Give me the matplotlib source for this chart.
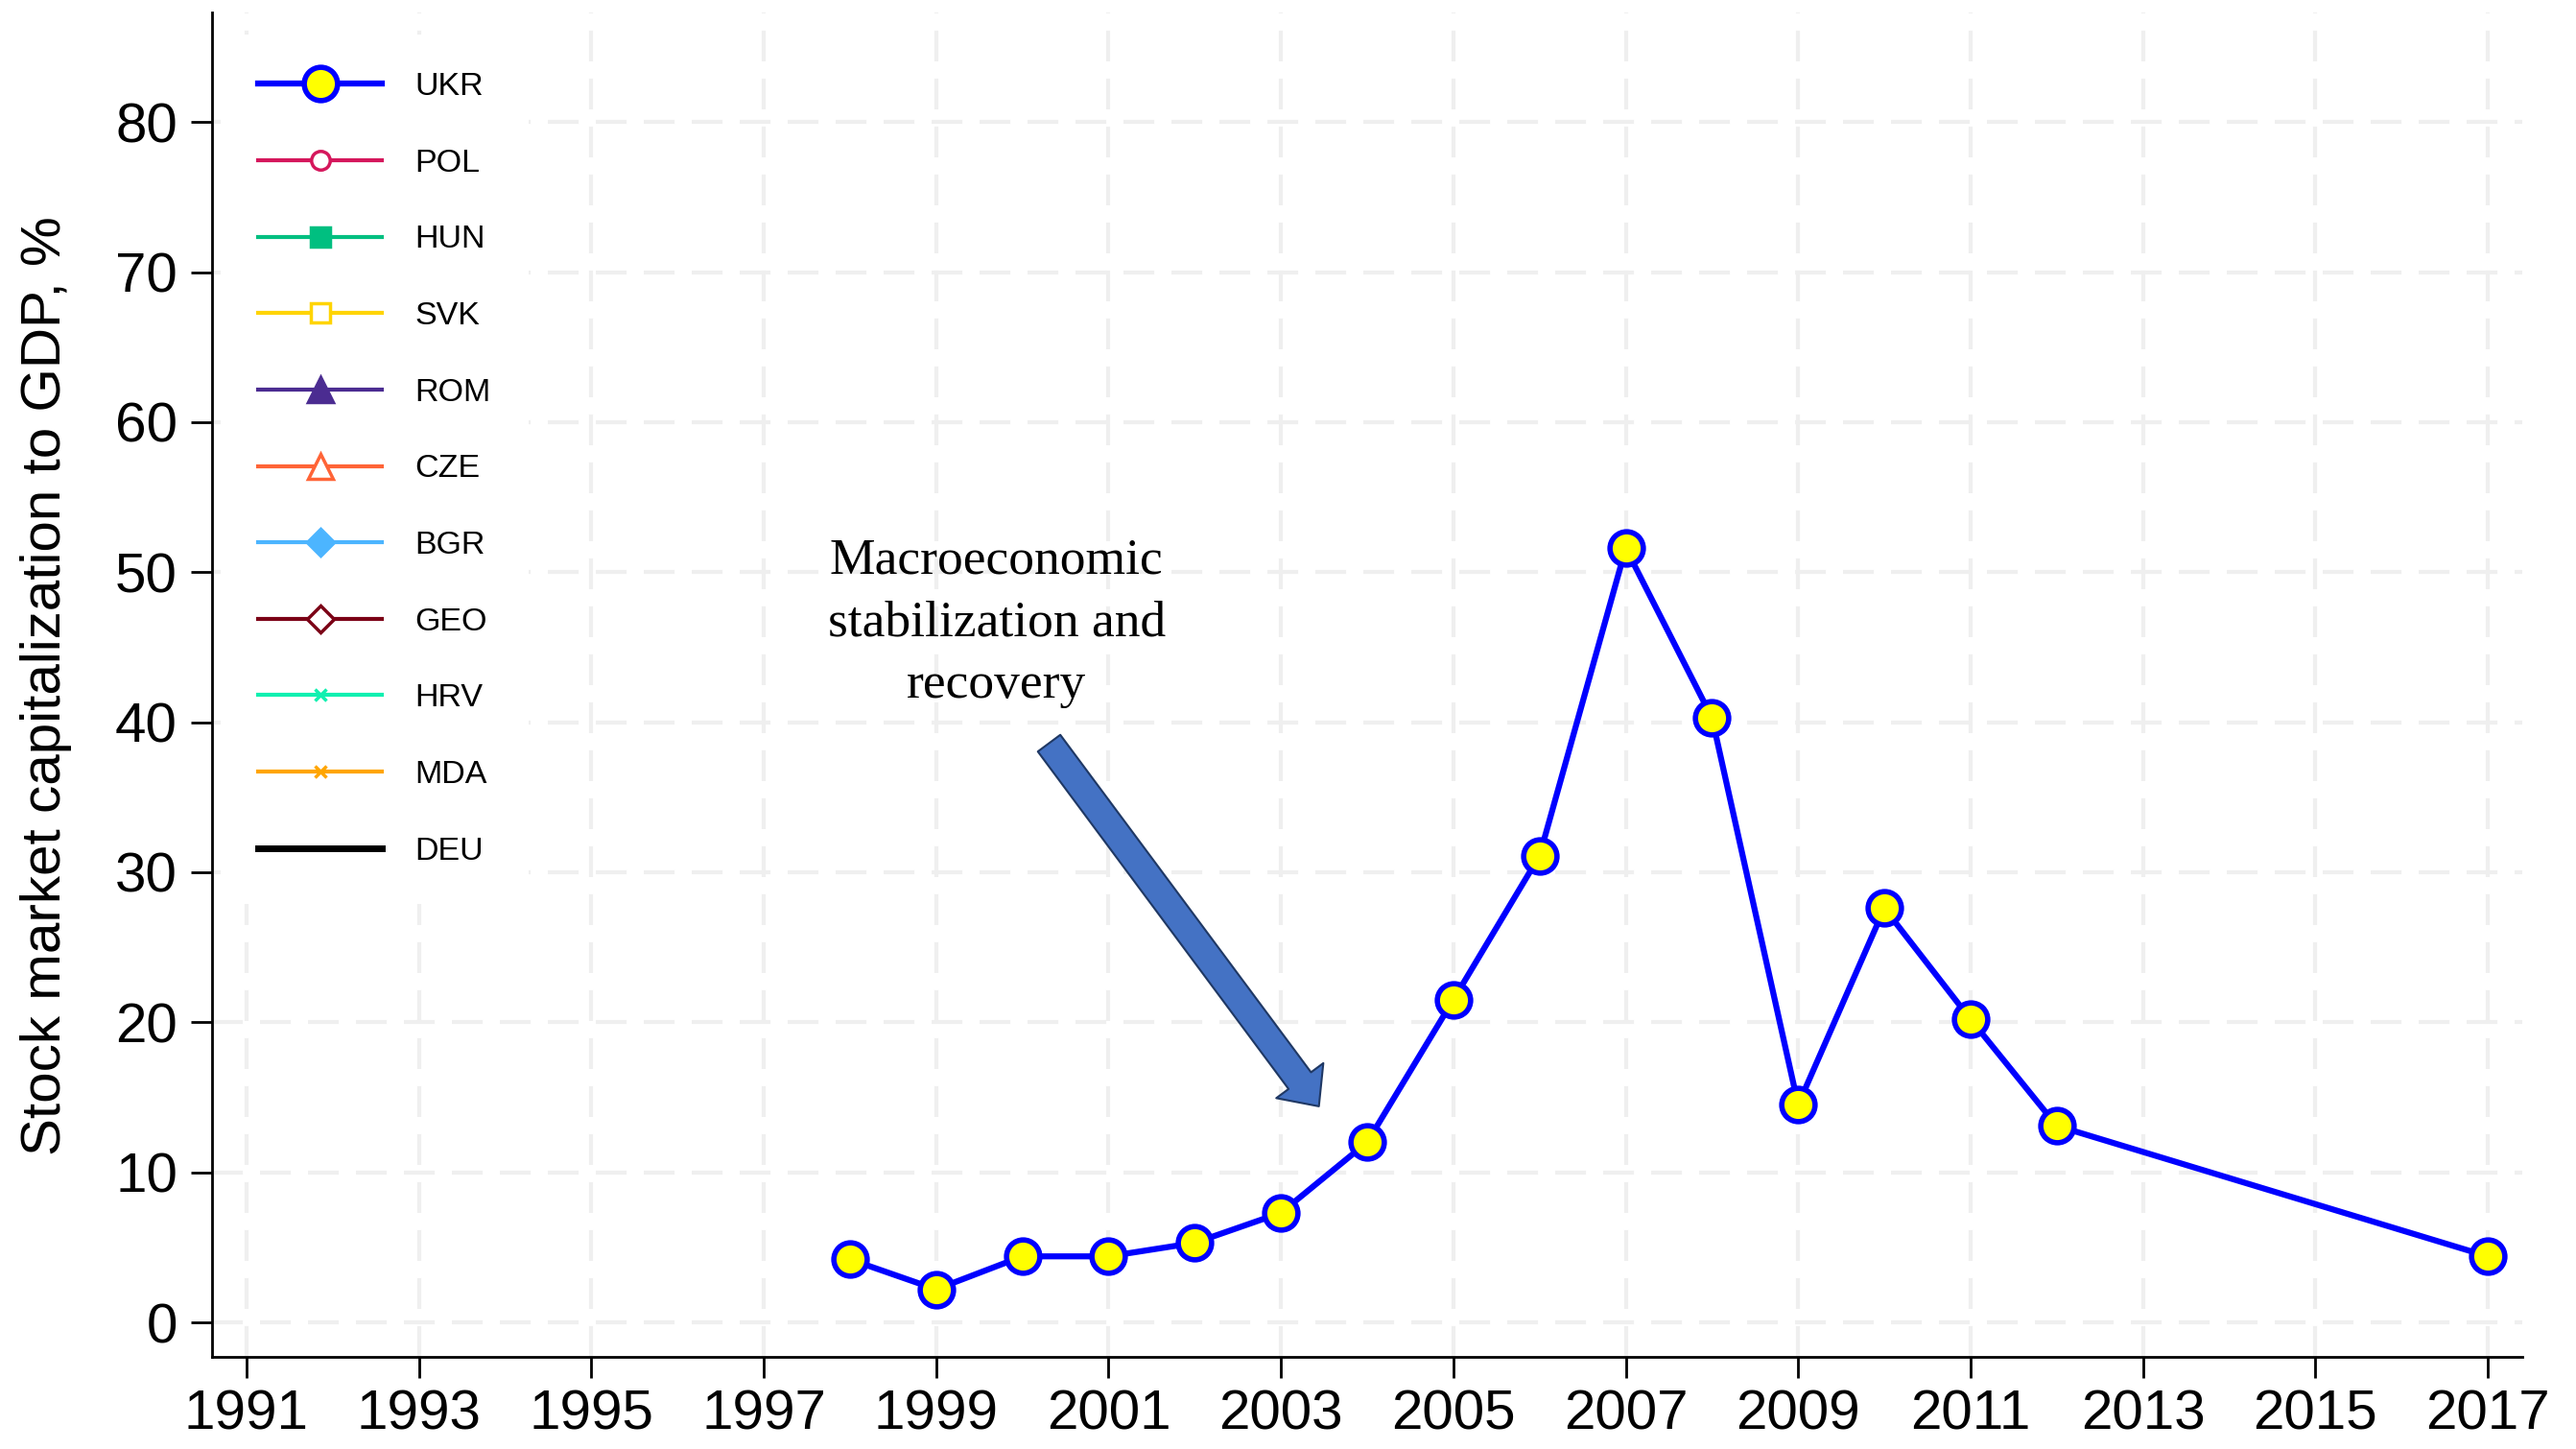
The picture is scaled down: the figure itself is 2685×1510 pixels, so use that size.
import numpy as np
import matplotlib.pyplot as plt

plt.rcParams['font.family'] = ['Liberation Sans', 'DejaVu Sans']

# UKR series (only series with data)
years = [1998, 1999, 2000, 2001, 2002, 2003, 2004, 2005, 2006, 2007,
         2008, 2009, 2010, 2011, 2012, 2017]
ukr = [4.2, 2.2, 4.4, 4.4, 5.3, 7.3, 12.0, 21.5, 31.1, 51.6,
       40.3, 14.5, 27.6, 20.2, 13.1, 4.4]

# other countries only appear in the legend
countries = ["POL", "HUN", "SVK", "ROM", "CZE", "BGR", "GEO", "HRV", "MDA", "DEU"]
colors = ["#D5175C", "#00BF80", "#FFD400", "#4B2C91", "#FF6437",
          "#4CB5FF", "#7B0016", "#10F0B0", "#FFA500", "#000000"]
markers = ["o", "s", "s", "^", "^", "D", "D", "x", "x", "None"]
filled = [False, True, False, True, False, True, False, True, True, True]
msizes = [14, 14, 14, 19, 19, 14, 14, 9, 9, 0]

xticks = list(range(1991, 2018, 2))
yticks = list(range(0, 81, 10))

W, H = 2685, 1510
fig = plt.figure(figsize=(W / 100, H / 100), dpi=100)
ax = fig.add_axes([221 / W, 1 - 1414 / H, (2629 - 221) / W, (1414 - 13) / H])

ax.plot(years, ukr, color="#0000FF", lw=4.5, marker="o", ms=25,
        mfc="#FFFF00", mec="#0000FF", mew=4, label="UKR", zorder=5)
for c, col, m, f, s in zip(countries, colors, markers, filled, msizes):
    lw = 5 if c == "DEU" else 3
    ax.plot([], [], color=col, lw=lw, marker=m, ms=s,
            mfc=col if f else "white", mec=col, mew=2.5, label=c)

ax.set_xlim(1990.6, 2017.4)
ax.set_ylim(-2.3, 87.3)
ax.set_xticks(xticks)
ax.set_yticks(yticks)
ax.grid(True, color="#EFEFEF", lw=3, linestyle=(0, (7.7, 4.3)), zorder=0)
ax.set_axisbelow(True)

for s in ["top", "right"]:
    ax.spines[s].set_visible(False)
for s in ["left", "bottom"]:
    ax.spines[s].set_linewidth(2)
ax.tick_params(axis="both", labelsize=42, length=16, width=2)
ax.tick_params(axis="y", pad=10)
ax.tick_params(axis="x", pad=8)

fig.text(48 / W, 1 - 715 / H, "Stock market capitalization to GDP, %",
         rotation=90, ha="center", va="center", fontsize=42)

leg = ax.legend(loc="upper left", bbox_to_anchor=(230 / W, 1 - 36 / H),
                bbox_transform=fig.transFigure, borderaxespad=0,
                fontsize=24.5, handlelength=3.8, handletextpad=1.0,
                labelspacing=1.43, borderpad=1.15, frameon=True,
                fancybox=False, framealpha=1, edgecolor="none",
                facecolor="white", markerscale=1)
leg.set_zorder(3)

# annotation with block arrow
ax.annotate("", xy=(2003.44, 14.4), xytext=(2000.31, 38.6),
            arrowprops=dict(arrowstyle="simple,head_length=24,head_width=44,tail_width=21",
                            mutation_scale=1, fc="#4472C4", ec="#1F3864", lw=1.5,
                            shrinkA=0, shrinkB=0), zorder=4)
ax.text(1999.70, 46.6, "Macroeconomic\nstabilization and\nrecovery",
        ha="center", va="center", fontsize=38.5, family="Liberation Serif",
        linespacing=1.45)

fig.savefig("out.png", dpi=100)
